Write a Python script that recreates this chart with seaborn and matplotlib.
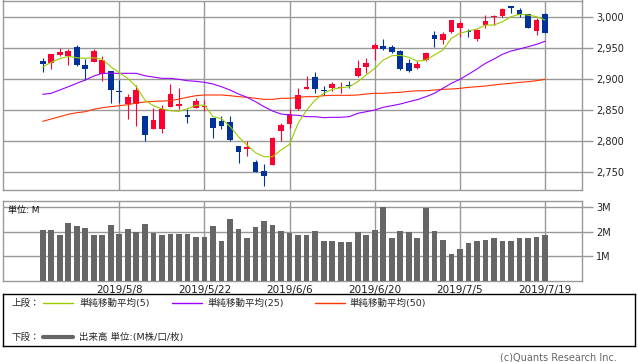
import numpy as np
import seaborn as sns
from matplotlib import pyplot as plt

# daily candles, 60 sessions up to 2019/7/19
opens = [2929.7, 2925.5, 2939.3, 2937.2, 2951.7, 2922.8, 2928.1, 2908.3, 2913.1, 2880.0,
         2860.0, 2860.0, 2840.7, 2820.2, 2820.2, 2855.7, 2856.8, 2841.8, 2853.6, 2855.5,
         2838.0, 2832.6, 2831.0, 2792.0, 2788.1, 2766.7, 2752.2, 2762.3, 2817.0, 2828.3,
         2852.0, 2884.6, 2903.4, 2882.5, 2885.7, 2885.2, 2891.0, 2905.0, 2920.0, 2948.5,
         2953.3, 2951.2, 2945.3, 2926.5, 2918.4, 2930.3, 2971.5, 2963.5, 2976.3, 2982.8,
         2978.0, 2964.6, 2986.6, 2999.5, 3001.6, 3018.2, 3011.3, 3004.8, 2978.0, 3004.8]
closes = [2924.9, 2940.5, 2943.7, 2945.3, 2923.2, 2916.8, 2944.8, 2930.8, 2883.0, 2879.0,
          2870.8, 2882.5, 2810.6, 2834.3, 2852.0, 2876.1, 2860.0, 2839.6, 2865.3, 2856.5,
          2821.4, 2824.6, 2802.0, 2782.7, 2790.3, 2750.0, 2744.6, 2804.8, 2826.2, 2843.8,
          2874.5, 2886.9, 2884.6, 2880.4, 2892.2, 2887.4, 2889.0, 2918.0, 2926.0, 2955.4,
          2949.0, 2944.2, 2916.3, 2913.6, 2924.4, 2942.6, 2964.1, 2972.6, 2994.7, 2990.3,
          2976.0, 2979.1, 2993.6, 3001.0, 3012.9, 3014.0, 3003.7, 2982.3, 2995.2, 2974.7]
highs = [2934.5, 2940.5, 2949.6, 2949.0, 2955.4, 2932.9, 2948.0, 2937.2, 2913.1, 2898.6,
         2875.6, 2890.6, 2840.7, 2854.0, 2858.4, 2892.2, 2885.3, 2852.0, 2869.2, 2866.4,
         2838.0, 2840.7, 2840.7, 2793.0, 2800.0, 2770.0, 2763.4, 2806.5, 2829.0, 2852.0,
         2886.3, 2905.0, 2912.0, 2889.0, 2896.0, 2896.0, 2897.0, 2930.8, 2933.5, 2957.7,
         2964.6, 2955.0, 2947.0, 2932.0, 2929.7, 2944.2, 2977.5, 2976.3, 2995.0, 2993.6,
         2980.7, 2981.2, 3003.2, 3003.7, 3015.0, 3018.2, 3014.5, 3005.0, 2997.9, 3006.0]
lows = [2911.5, 2916.8, 2937.7, 2923.2, 2921.2, 2898.6, 2928.0, 2897.6, 2862.1, 2862.1,
        2836.3, 2825.0, 2801.0, 2820.0, 2813.8, 2855.0, 2851.4, 2830.0, 2853.0, 2849.2,
        2805.3, 2820.2, 2800.0, 2765.5, 2776.8, 2750.0, 2728.5, 2762.0, 2801.0, 2822.0,
        2851.0, 2884.6, 2878.2, 2874.5, 2881.4, 2878.2, 2885.7, 2904.0, 2910.4, 2930.8,
        2946.4, 2942.6, 2915.0, 2912.0, 2917.0, 2929.0, 2951.2, 2956.0, 2975.0, 2967.3,
        2968.3, 2961.9, 2982.3, 2986.6, 3000.0, 3006.9, 3000.0, 2982.0, 2971.5, 2974.0]

ma5 = [2919.5, 2927.0, 2933.0, 2936.7, 2934.5, 2933.5, 2934.5, 2932.0, 2920.0, 2910.4,
       2901.3, 2887.8, 2866.4, 2857.3, 2852.4, 2849.2, 2848.2, 2852.4, 2857.9, 2858.4,
       2839.6, 2836.4, 2824.0, 2807.4, 2794.0, 2781.6, 2775.2, 2775.2, 2786.0, 2795.0,
       2829.0, 2850.3, 2866.4, 2877.2, 2883.6, 2886.2, 2887.8, 2895.9, 2906.7, 2917.4,
       2930.8, 2937.7, 2938.4, 2935.1, 2929.0, 2930.8, 2938.8, 2946.9, 2965.7, 2973.8,
       2977.5, 2980.7, 2987.1, 2987.1, 2992.4, 3000.5, 3004.3, 3003.2, 3000.5, 2995.2]
ma25 = [2875.6, 2877.2, 2882.5, 2887.8, 2893.3, 2898.6, 2905.0, 2909.4, 2909.4, 2909.4,
        2909.4, 2909.4, 2905.5, 2903.4, 2901.3, 2901.3, 2899.7, 2897.5, 2896.5, 2894.9,
        2892.2, 2887.8, 2882.5, 2876.1, 2870.8, 2863.7, 2855.7, 2848.7, 2843.9, 2842.5,
        2841.8, 2839.6, 2839.6, 2838.0, 2838.6, 2838.6, 2839.6, 2845.0, 2847.6, 2850.3,
        2854.7, 2857.3, 2860.0, 2863.7, 2867.0, 2871.7, 2877.2, 2885.2, 2893.3, 2899.7,
        2907.8, 2916.3, 2925.5, 2932.4, 2940.0, 2945.3, 2948.5, 2952.2, 2956.0, 2960.9]
ma50 = [2832.1, 2835.9, 2839.6, 2843.4, 2846.0, 2847.6, 2851.5, 2854.0, 2855.7, 2857.3,
        2858.9, 2861.6, 2863.2, 2864.3, 2864.8, 2865.3, 2868.0, 2870.8, 2873.4, 2874.5,
        2874.5, 2874.5, 2873.4, 2871.8, 2870.8, 2869.2, 2867.5, 2867.5, 2869.2, 2869.2,
        2870.8, 2871.8, 2871.8, 2873.4, 2874.0, 2874.0, 2874.0, 2874.5, 2876.1, 2877.2,
        2877.2, 2878.2, 2878.8, 2880.4, 2881.2, 2881.4, 2882.5, 2883.6, 2884.1, 2885.2,
        2886.8, 2887.8, 2889.0, 2890.6, 2892.2, 2893.3, 2894.9, 2895.9, 2897.5, 2899.7]

# volume in millions
volume = [2.08, 2.08, 1.88, 2.36, 2.24, 2.16, 1.88, 1.88, 2.28, 1.92,
          2.12, 2.00, 2.32, 1.96, 1.88, 1.92, 1.92, 1.92, 1.80, 1.80,
          2.24, 1.64, 2.53, 2.12, 1.76, 2.20, 2.45, 2.28, 2.04, 1.96,
          1.88, 1.88, 2.04, 1.64, 1.64, 1.59, 1.59, 2.00, 1.88, 2.08,
          3.01, 1.76, 2.04, 2.00, 1.76, 2.97, 2.04, 1.68, 1.11, 1.31,
          1.55, 1.64, 1.68, 1.76, 1.64, 1.64, 1.76, 1.76, 1.80, 1.88]

date_pos = [9, 19, 29, 39, 49, 59]
date_labels = ['2019/5/8', '2019/5/22', '2019/6/6', '2019/6/20', '2019/7/5', '2019/7/19']
price_ticks = [2750, 2800, 2850, 2900, 2950, 3000]
vol_ticks = [1, 2, 3]
vol_labels = ['1M', '2M', '3M']

sns.set_style("white")
plt.rcParams['font.family'] = ['DejaVu Sans', 'Noto Sans CJK JP']

W, H = 638, 362
fig = plt.figure(figsize=(W / 100, H / 100), dpi=100)
GRID = '#999999'
UP, DOWN = '#FF0033', '#003399'
idx = np.arange(len(closes))


def frame(ax):
    for s in ax.spines.values():
        s.set_color(GRID)
        s.set_linewidth(1.0)
    ax.grid(True, color=GRID, linewidth=1.0)
    ax.set_axisbelow(True)
    ax.yaxis.tick_right()
    ax.tick_params(axis='y', length=8, width=1.0, color=GRID, labelsize=7,
                   labelcolor='#222222', pad=2, right=True, left=False)
    ax.set_xticks(date_pos)
    ax.set_xlim(-4.66, 63.34)


# price panel
ax1 = fig.add_axes([3 / W, 172 / H, 579 / W, 189.5 / H])
frame(ax1)
colors = [UP if c >= o else DOWN for o, c in zip(opens, closes)]
bottoms = np.minimum(opens, closes)
heights = np.maximum(np.abs(np.array(closes) - np.array(opens)), 1.2)
ax1.vlines(idx, lows, highs, colors=colors, linewidth=0.8, zorder=2)
ax1.bar(idx, heights, bottom=bottoms, width=0.67, color=colors, linewidth=0, zorder=3)
sns.lineplot(x=idx, y=ma50, color='#FF3300', linewidth=0.8, ax=ax1, zorder=4)
sns.lineplot(x=idx, y=ma25, color='#9900FF', linewidth=0.8, ax=ax1, zorder=4)
sns.lineplot(x=idx, y=ma5, color='#99CC00', linewidth=0.8, ax=ax1, zorder=4)
ax1.set_ylim(2721.6, 3026.6)
ax1.set_yticks(price_ticks)
ax1.set_yticklabels([f'{v:,}' for v in price_ticks])
ax1.tick_params(axis='x', length=0, labelbottom=False)
ax1.set_xlabel('')
ax1.set_ylabel('')

# volume panel
ax2 = fig.add_axes([3 / W, 81 / H, 579 / W, 80 / H])
sns.barplot(x=idx, y=volume, native_scale=True, color='#666666', saturation=1,
            width=0.67, linewidth=0, ax=ax2, zorder=3)
frame(ax2)
ax2.set_ylim(0, 3.24)
ax2.set_yticks(vol_ticks)
ax2.set_yticklabels(vol_labels)
ax2.set_xticklabels(date_labels)
ax2.tick_params(axis='x', length=0, labelsize=7.5, labelcolor='#222222', pad=3)
ax2.set_xlabel('')
ax2.set_ylabel('')
ax2.text(0.009, 0.88, '単位: M', transform=ax2.transAxes, fontsize=6.5,
         va='center', ha='left', color='#111111', zorder=5)

# legend box
lg = fig.add_axes([3 / W, 16 / H, 632 / W, 52 / H])
lg.set_xlim(0, 632)
lg.set_ylim(52, 0)
lg.set_xticks([])
lg.set_yticks([])
for s in lg.spines.values():
    s.set_color('black')
    s.set_linewidth(1.0)
lg.patch.set_alpha(0)
fs = 6.8
lg.text(9, 9, '上段：', fontsize=fs, va='center')
lg.plot([40, 70], [9, 9], color='#99CC00', lw=1.0)
lg.text(76, 9, '単純移動平均(5)', fontsize=fs, va='center')
lg.plot([169, 199], [9, 9], color='#9900FF', lw=1.0)
lg.text(204, 9, '単純移動平均(25)', fontsize=fs, va='center')
lg.plot([312, 342], [9, 9], color='#FF3300', lw=1.0)
lg.text(347, 9, '単純移動平均(50)', fontsize=fs, va='center')
lg.text(9, 43, '下段：', fontsize=fs, va='center')
lg.plot([40, 70], [43, 43], color='#666666', lw=3.0)
lg.text(76, 43, '出来高 単位:(M株/口/枚)', fontsize=fs, va='center')

fig.text(617 / W, 1 - 358 / H, '(c)Quants Research Inc.', fontsize=7,
         color='#666666', ha='right', va='center')

plt.savefig('out.png', dpi=100)
